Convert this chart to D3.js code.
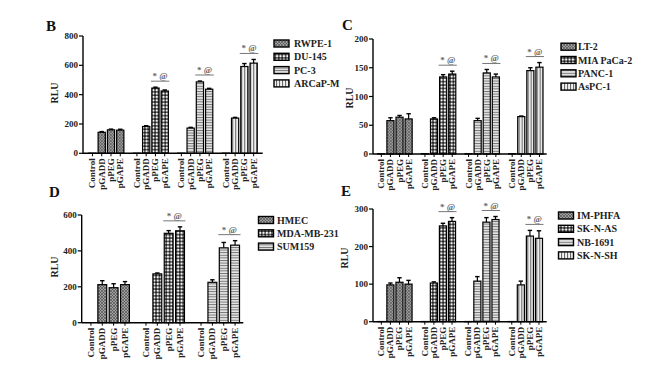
<!DOCTYPE html>
<html><head><meta charset="utf-8">
<script src="https://cdn.jsdelivr.net/npm/d3@7"></script>
<style>
body{margin:0;background:#fff;}
svg{display:block;}
text{font-family:"Liberation Serif","Times New Roman",serif;font-weight:bold;}
</style>
</head><body>
<svg id="c" width="650" height="378"></svg>
<script>
// ---------- data ----------
const treatments = ["Control", "pGADD", "pPEG", "pGAPE"];

const cellsB = ["RWPE-1", "DU-145", "PC-3", "ARCaP-M"];
const valuesB = [[1, 143, 160, 158], [1, 183, 445, 425], [1, 172, 487, 437], [1, 240, 592, 615]];
const errorsB = [[0, 5, 5, 6], [0, 5, 6, 7], [0, 5, 6, 6], [0, 5, 20, 25]];
const sigB = [false, true, true, true];
const ticksB = [0, 200, 400, 600, 800];

const cellsC = ["LT-2", "MIA PaCa-2", "PANC-1", "AsPC-1"];
const valuesC = [[0.5, 58, 64, 61], [0.5, 61, 134, 139], [0.5, 58, 141, 134], [0.5, 65, 145, 151]];
const errorsC = [[0, 5, 3, 9], [0, 2, 4, 5], [0, 4, 6, 5], [0, 1, 5, 8]];
const sigC = [false, true, true, true];
const ticksC = [0, 50, 100, 150, 200];

const cellsD = ["HMEC", "MDA-MB-231", "SUM159"];
const valuesD = [[0, 212, 195, 212], [0, 272, 498, 512], [0, 225, 417, 432]];
const errorsD = [[0, 22, 22, 17], [0, 5, 15, 22], [0, 14, 30, 25]];
const sigD = [false, true, true];
const ticksD = [0, 200, 400, 600];

const cellsE = ["IM-PHFA", "SK-N-AS", "NB-1691", "SK-N-SH"];
const valuesE = [[0.5, 98, 105, 100], [0.5, 103, 255, 267], [0.5, 108, 265, 272], [0.5, 98, 228, 222]];
const errorsE = [[0, 5, 12, 10], [0, 3, 7, 10], [0, 12, 12, 8], [0, 10, 15, 20]];
const sigE = [false, true, true, true];
const ticksE = [0, 100, 200, 300];

const sigLabel = "* @";
const yTitle = "RLU";

// ---------- patterns ----------
const svg = d3.select("#c");
const defs = svg.append("defs");
function pat(id, w, h, bg, draw) {
  const p = defs.append("pattern").attr("id", id).attr("patternUnits", "userSpaceOnUse")
    .attr("width", w).attr("height", h);
  p.append("rect").attr("width", w).attr("height", h).attr("fill", bg);
  draw(p);
}
pat("p0", 3, 3, "#a0a0a0", p => {
  p.append("path").attr("d", "M0,0L3,3M3,0L0,3").attr("stroke", "#444").attr("stroke-width", 0.6);
});
pat("p1", 3.4, 3.4, "#1a1a1a", p => {
  p.append("circle").attr("cx", 1.7).attr("cy", 1.7).attr("r", 1.3).attr("fill", "#f4f4f4");
});
pat("p2", 3, 2.6, "#e6e6e6", p => {
  p.append("line").attr("x1", 0).attr("x2", 3).attr("y1", 0.5).attr("y2", 0.5).attr("stroke", "#6a6a6a").attr("stroke-width", 0.9);
});
pat("p3", 3, 3, "#f2f2f2", p => {
  p.append("line").attr("x1", 0.6).attr("x2", 0.6).attr("y1", 0).attr("y2", 3).attr("stroke", "#4a4a4a").attr("stroke-width", 0.9);
});
const fills = ["url(#p0)", "url(#p1)", "url(#p2)", "url(#p3)"];

// ---------- panel drawer ----------
function panel(o) {
  const g = svg.append("g");
  const y = d3.scaleLinear().domain([0, o.ticks[o.ticks.length - 1]]).range(o.yRange);
  const x0 = d3.scaleBand().domain(o.cells).range(o.barRange).paddingInner(o.padIn).paddingOuter(0);
  const x1 = d3.scaleBand().domain(treatments).range([0, x0.bandwidth()]).padding(0.22);
  const bw = x1.bandwidth();

  // bars
  o.cells.forEach((c, gi) => {
    const gg = g.append("g").attr("transform", `translate(${x0(c)},0)`);
    treatments.forEach((t, ti) => {
      const v = o.values[gi][ti], e = o.errors[gi][ti];
      const bx = x1(t);
      if (e > 0) {
        gg.append("line").attr("x1", bx + bw / 2).attr("x2", bx + bw / 2)
          .attr("y1", y(v)).attr("y2", y(v + e)).attr("stroke", "#000").attr("stroke-width", 1.2);
        gg.append("line").attr("x1", bx + bw / 2 - 2.2).attr("x2", bx + bw / 2 + 2.2)
          .attr("y1", y(v + e)).attr("y2", y(v + e)).attr("stroke", "#000").attr("stroke-width", 1.4);
      }
      gg.append("rect").attr("x", bx).attr("width", bw)
        .attr("y", y(v)).attr("height", Math.max(0, y(0) - y(v)))
        .attr("fill", fills[o.fillIdx[gi]]).attr("stroke", "#000").attr("stroke-width", 1.2);
    });
    if (o.sig[gi]) {
      const top = Math.max(o.values[gi][2] + o.errors[gi][2], o.values[gi][3] + o.errors[gi][3]);
      const ly = y(top) - 6;
      const xa = x1("pPEG") - 1, xb = x1("pGAPE") + bw + 1;
      gg.append("line").attr("x1", xa).attr("x2", xb).attr("y1", ly).attr("y2", ly)
        .attr("stroke", "#777").attr("stroke-width", 1);
      gg.append("text").attr("x", (xa + xb) / 2).attr("y", ly - 2).attr("text-anchor", "middle")
        .attr("font-size", 9).attr("fill", "#666").text(sigLabel);
    }
    // x labels
    treatments.forEach(t => {
      const cx = x1(t) + bw / 2;
      gg.append("line").attr("x1", cx).attr("x2", cx).attr("y1", y(0)).attr("y2", y(0) + 3)
        .attr("stroke", "#000").attr("stroke-width", 1);
      gg.append("text").attr("transform", `translate(${cx + 3},${y(0) + 5}) rotate(-90)`)
        .attr("text-anchor", "end").attr("font-size", 9).attr("fill", "#222").text(t);
    });
  });

  // axes
  g.append("line").attr("x1", o.axisX[0]).attr("x2", o.axisX[1]).attr("y1", y(0)).attr("y2", y(0))
    .attr("stroke", "#000").attr("stroke-width", 1.4);
  g.append("line").attr("x1", o.axisX[0]).attr("x2", o.axisX[0]).attr("y1", y(0)).attr("y2", o.yRange[1])
    .attr("stroke", "#000").attr("stroke-width", 1.4);
  o.ticks.forEach(t => {
    g.append("line").attr("x1", o.axisX[0] - 4).attr("x2", o.axisX[0]).attr("y1", y(t)).attr("y2", y(t))
      .attr("stroke", "#000").attr("stroke-width", 1.2);
    g.append("text").attr("x", o.axisX[0] - 5).attr("y", y(t)).attr("dy", "0.35em")
      .attr("text-anchor", "end").attr("font-size", 9).attr("fill", "#222").text(t);
  });
  g.append("text").attr("transform", `translate(${o.titleX},${o.titleY}) rotate(-90)`)
    .attr("text-anchor", "middle").attr("font-size", 10).attr("fill", "#222").text(yTitle);

  // panel letter
  g.append("text").attr("x", o.letterPos[0]).attr("y", o.letterPos[1]).attr("font-size", 15)
    .attr("fill", "#111").text(o.letter);

  // legend
  o.cells.forEach((c, i) => {
    const ly = o.legend[2] + i * 13.3;
    g.append("rect").attr("x", o.legend[0]).attr("y", ly - 3.5).attr("width", 15).attr("height", 7)
      .attr("fill", fills[o.fillIdx[i]]).attr("stroke", "#000").attr("stroke-width", 1.4);
    g.append("text").attr("x", o.legend[1]).attr("y", ly).attr("dy", "0.35em")
      .attr("font-size", 10).attr("fill", "#222").text(c);
  });
}

panel({letter: "B", letterPos: [46, 31], cells: cellsB, values: valuesB, errors: errorsB, sig: sigB, ticks: ticksB,
  yRange: [153.3, 36], axisX: [83, 262.7], barRange: [86.8, 259.3], padIn: 0.12, fillIdx: [0, 1, 2, 3],
  titleX: 58, titleY: 93, legend: [274, 294, 43.5]});
panel({letter: "C", letterPos: [342, 30], cells: cellsC, values: valuesC, errors: errorsC, sig: sigC, ticks: ticksC,
  yRange: [154, 39], axisX: [373, 546.7], barRange: [375.8, 545], padIn: 0.12, fillIdx: [0, 1, 2, 3],
  titleX: 353, titleY: 98, legend: [561, 578, 46.7]});
panel({letter: "D", letterPos: [49, 197], cells: cellsD, values: valuesD, errors: errorsD, sig: sigD, ticks: ticksD,
  yRange: [322.7, 215], axisX: [81.7, 243.3], barRange: [84, 242], padIn: 0.13, fillIdx: [0, 1, 2],
  titleX: 58, titleY: 267, legend: [258.5, 277, 220]});
panel({letter: "E", letterPos: [341, 196], cells: cellsE, values: valuesE, errors: errorsE, sig: sigE, ticks: ticksE,
  yRange: [321.7, 209], axisX: [373, 546.7], barRange: [375.8, 544.5], padIn: 0.12, fillIdx: [0, 1, 2, 3],
  titleX: 348, titleY: 258, legend: [558.5, 577, 215.5]});
</script>
</body></html>
